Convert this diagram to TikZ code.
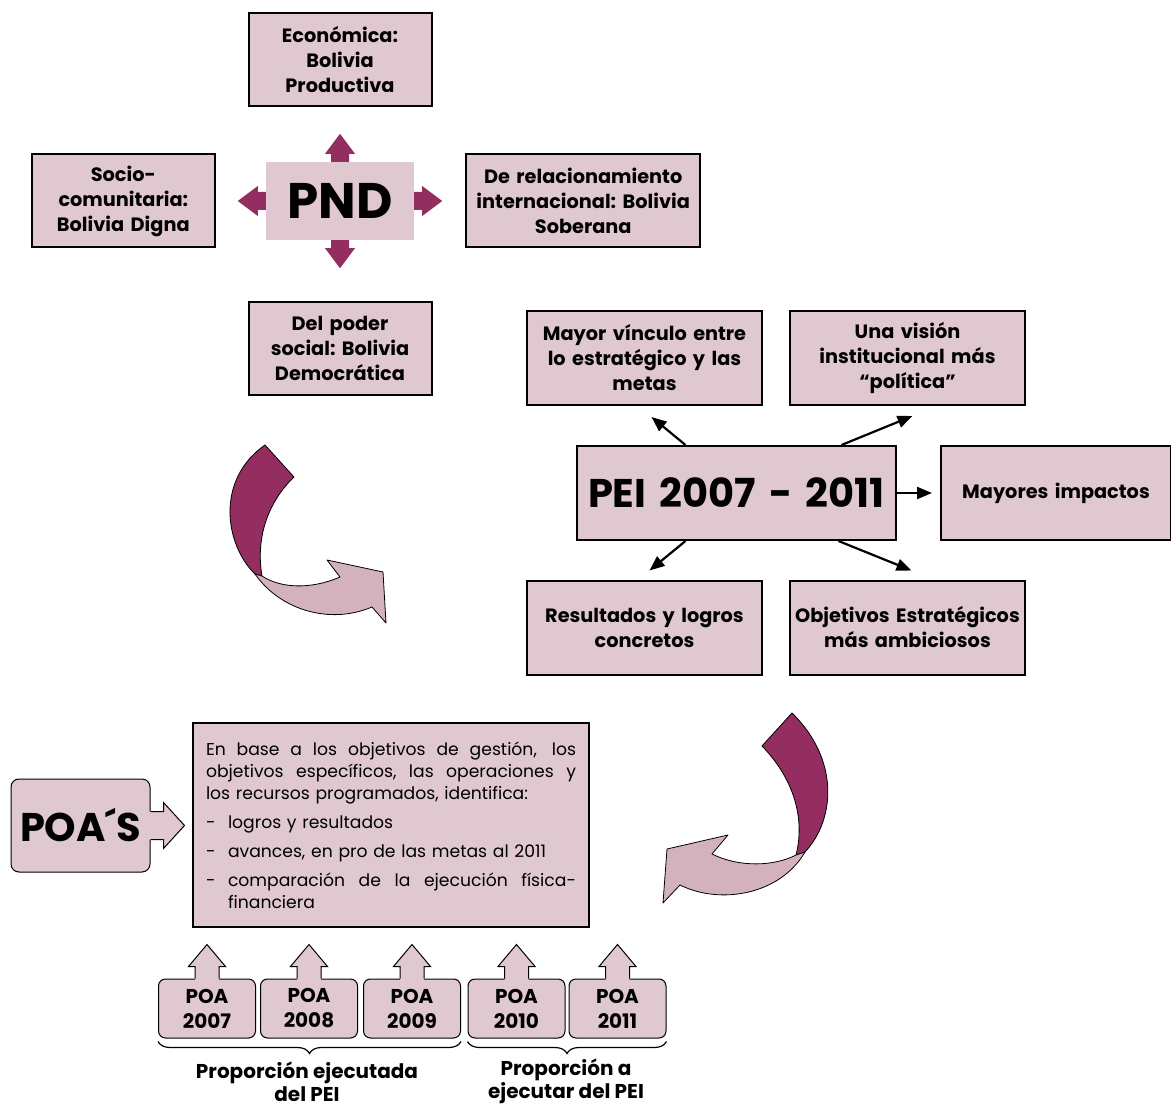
\documentclass[tikz,border=0pt]{standalone}
\usepackage{fontspec}
\setmainfont{Poppins}
\frenchspacing
\usetikzlibrary{
    arrows.meta,
    positioning,
    decorations.pathreplacing
}
\definecolor{rosa}{RGB}{223,200,208}
\definecolor{rosaosc}{RGB}{212,178,189}
\definecolor{vino}{RGB}{148,46,96}

% renglon justificado a mano
\newcommand{\justa}[2]{\leavevmode\hbox to #1{\spaceskip=0.3em plus 1fil\relax #2}}

\tikzset{
    eje/.style={draw, line width=2pt, fill=rosa, minimum width=183pt, minimum height=93pt,
        text width=178pt, align=center, inner sep=0pt,
        font=\bfseries\fontsize{19.3}{25}\selectfont},
    logro/.style={eje, minimum width=235pt, minimum height=94pt, text width=230pt},
    poa/.style={draw, line width=1pt, fill=rosa, rounded corners=7pt, minimum width=97pt,
        minimum height=59pt, inner sep=0pt, align=center,
        font=\bfseries\fontsize{20}{25}\selectfont},
    flecha/.style={-{Triangle[length=15pt,width=12pt]}, line width=2.2pt},
    curva/.style={draw=black, line width=0.8pt, line join=round},
    leyenda/.style={align=center, inner sep=0pt, font=\bfseries\fontsize{20}{23}\selectfont}
}

\begin{document}
\begin{tikzpicture}[x=1pt, y=-1pt, node distance=50pt]
    \useasboundingbox (0,0) rectangle (1171,1107);

    % PND y sus cuatro ejes
    \node[fill=rosa, minimum width=148pt, minimum height=78pt, inner sep=0pt,
          font=\bfseries\fontsize{50}{50}\selectfont] (pnd) at (340,201) {PND};
    \node[eje] (economica) [above=55pt of pnd] {Económica:\\Bolivia\\Productiva};
    \node[eje] (social) [left=50pt of pnd] {Socio-\\comunitaria:\\Bolivia Digna};
    \node[eje, minimum width=234pt, text width=230pt] (soberana) [right=51pt of pnd]
        {De relacionamiento\\internacional: Bolivia\\Soberana};
    \node[eje] (poder) [below=61pt of pnd] {Del poder\\social: Bolivia\\Democrática};

    \foreach \ang/\lado in {90/north, 180/west, 270/south, 0/east}
        \fill[vino, shift={(pnd.\lado)}, rotate=\ang]
            (0,-9) -- (8,-9) -- (8,-15) -- (28,0) -- (8,15) -- (8,9) -- (0,9) -- cycle;

    % PEI
    \node[logro, minimum width=319pt, text width=310pt,
          font=\bfseries\fontsize{40}{40}\selectfont] (pei) at (736.5,493) {PEI 2007 - 2011};
    \node[logro] (vinculo) at (644.5,358) {Mayor vínculo entre\\lo estratégico y las\\metas};
    \node[logro] (vision) at (907.5,358) {Una visión\\institucional más\\“política”};
    \node[logro, minimum width=230pt, text width=224pt] (impactos) at (1056,493) {Mayores impactos};
    \node[logro] (resultados) at (644.5,627.5) {Resultados y logros\\concretos};
    \node[logro] (objetivos) at (907.5,627.5) {Objetivos Estratégicos\\más ambiciosos};

    \draw[flecha] ([xshift=-51pt]pei.north) -- ([shift={(7,11)}]vinculo.south);
    \draw[flecha] ([xshift=105pt]pei.north) -- ([shift={(5,10)}]vision.south);
    \draw[flecha, shorten >=8pt] (pei.east) -- (impactos.west);
    \draw[flecha] ([xshift=-51pt]pei.south) -- ([shift={(5,-9)}]resultados.north);
    \draw[flecha] ([xshift=102pt]pei.south) -- ([shift={(4,-9)}]objetivos.north);

    % flechas curvas
    \filldraw[curva, fill=vino] (265,445) -- (294,477) .. controls (270,500) and (255,535) .. (262,576)
        -- (255,574) .. controls (225,545) and (215,480) .. (265,445) -- cycle;
    \filldraw[curva, fill=rosaosc] (255,574) .. controls (280,610) and (330,625) .. (372,607)
        -- (386,623) -- (383,572) -- (327,560) -- (340,577)
        .. controls (310,590) and (280,588) .. (262,576) -- cycle;

    \filldraw[curva, fill=vino] (792,713) .. controls (840,760) and (835,820) .. (805,852)
        -- (796,855) .. controls (805,820) and (795,780) .. (762,746) -- cycle;
    \filldraw[curva, fill=rosaosc] (805,852) .. controls (780,895) and (720,905) .. (680,885)
        -- (663,903) -- (667,849) -- (728,835) -- (712,854)
        .. controls (740,868) and (775,866) .. (796,855) -- cycle;

    % POAs
    \node[draw, line width=2pt, fill=rosa, minimum width=396pt, minimum height=204pt,
          text width=370pt, align=left, inner sep=0pt,
          font=\fontsize{17.2}{22}\selectfont] (texto) at (391,825)
        {\justa{370pt}{En base a los objetivos de gestión,\hspace{4pt} los}\\
         \justa{370pt}{objetivos específicos, las operaciones y}\\
         los recursos programados, identifica:\\[7pt]
         \makebox[22pt][l]{-}logros y resultados\\[7pt]
         \makebox[22pt][l]{-}avances, en pro de las metas al 2011\\[7pt]
         \makebox[22pt][l]{-}\justa{348pt}{comparación de la ejecución física-}\\
         \hspace*{22pt}financiera};

    \node[draw, line width=1pt, fill=rosa, rounded corners=8pt, minimum width=139pt,
          minimum height=93pt, inner sep=0pt, font=\bfseries\fontsize{40}{40}\selectfont]
        (poas) at (80.5,825.5) {POA´S};
    \fill[rosa] ([shift={(-2,-14)}]poas.east) -- ++(15,0) -- ++(0,-9) -- ++(21,23)
        -- ++(-21,23) -- ++(0,-9) -- ++(-15,0) -- cycle;
    \draw[line width=1pt] ([yshift=14pt]poas.east) -- ++(13,0) -- ++(0,-9) -- ++(21,23)
        -- ++(-21,23) -- ++(0,-9) -- ++(-13,0);

    \node[poa] (poa1) at (207,1008.5) {POA\\2007};
    \node[poa] (poa2) [right=4pt of poa1] {POA\\2008};
    \node[poa] (poa3) [right=5pt of poa2] {POA\\2009};
    \node[poa] (poa4) at (516.5,1008.5) {POA\\2010};
    \node[poa] (poa5) [right=3pt of poa4] {POA\\2011};

    \foreach \p in {poa1, poa2, poa3, poa4, poa5} {
        \fill[rosa] ([shift={(-12,2)}]\p.north) -- ++(0,-14) -- ++(-6.5,0) -- ++(18.5,-22)
            -- ++(18.5,22) -- ++(-6.5,0) -- ++(0,14) -- cycle;
        \draw[line width=1pt] ([xshift=-12pt]\p.north) -- ++(0,-12) -- ++(-6.5,0) -- ++(18.5,-22)
            -- ++(18.5,22) -- ++(-6.5,0) -- ++(0,12);
    }

    \draw[decorate, decoration={brace, mirror, amplitude=12pt}, line width=1.2pt]
        ([yshift=-3pt]poa1.south west) -- ([yshift=-3pt]poa3.south east);
    \draw[decorate, decoration={brace, mirror, amplitude=12pt}, line width=1.2pt]
        ([yshift=-3pt]poa4.south west) -- ([yshift=-3pt]poa5.south east);

    \node[leyenda] (ejecutada) at (307,1081.5) {Proporción ejecutada\\del PEI};
    \node[leyenda] (ejecutar) at (566,1081.5) {Proporción a\\ejecutar del PEI};
\end{tikzpicture}
\end{document}
